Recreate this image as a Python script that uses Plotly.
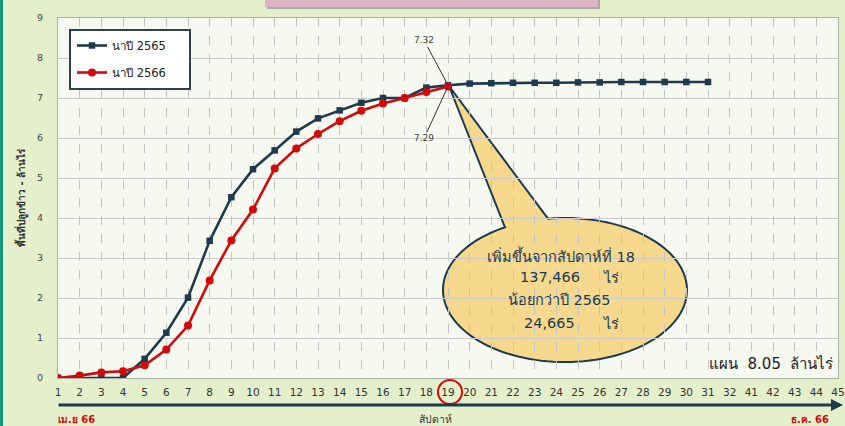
import numpy as np
import plotly.graph_objects as go

# ---------------- data ----------------
week_labels = [str(i) for i in range(1, 33)] + ["41", "42", "43", "44", "45"]
weeks_2565 = [str(i) for i in range(1, 32)]
area_2565 = [0, 0, 0, 0, 0.48, 1.13, 2.01, 3.43, 4.52, 5.22, 5.69, 6.16, 6.49, 6.69,
             6.88, 7.00, 7.00, 7.26, 7.32, 7.36, 7.37, 7.38, 7.38, 7.38, 7.39, 7.39,
             7.40, 7.40, 7.40, 7.40, 7.40]
weeks_2566 = [str(i) for i in range(1, 20)]
area_2566 = [0, 0.06, 0.14, 0.17, 0.32, 0.71, 1.31, 2.44, 3.44, 4.21, 5.24, 5.74,
             6.10, 6.42, 6.68, 6.86, 7.00, 7.15, 7.29]
series_names = ["นาปี 2565", "นาปี 2566"]
y_ticks = list(range(0, 10))
callout_lines = ["เพิ่มขึ้นจากสัปดาห์ที่ 18", "137,466", "น้อยกว่าปี 2565", "24,665"]
unit_rai = "ไร่"
plan_text = "แผน  8.05  ล้านไร่"
y_title = "พื้นที่ปลูกข้าว - ล้านไร่"
x_title = "สัปดาห์"
start_label = "เม.ย 66"
end_label = "ธ.ค. 66"
highlight_week = "19"

NAVY = "#1d3a4e"
RED = "#d20a0a"
FONT = "DejaVu Sans, Noto Sans, sans-serif"

W, H = 845, 426
ML, MR, MT, MB = 58, 7, 18, 48
PW, PH = W - ML - MR, H - MT - MB


def px(x):
    return (x - ML) / PW


def py(y):
    return (H - MB - y) / PH


fig = go.Figure()
fig.add_trace(go.Scatter(
    x=weeks_2565, y=area_2565, name=series_names[0], mode="lines+markers",
    line=dict(color=NAVY, width=2.6), marker=dict(symbol="square", size=6.5, color=NAVY),
    legendgroup="a"))
fig.add_trace(go.Scatter(
    x=weeks_2566, y=area_2566, name=series_names[1], mode="lines+markers",
    line=dict(color=RED, width=2.6), marker=dict(symbol="circle", size=8, color=RED),
    legendgroup="b"))

# ---------------- callout (speech bubble) ----------------
cx, cy, rx, ry = 565, 290, 122, 72
tip = (449, 86)
t1 = np.arctan2(-0.990, -0.139)
t2 = np.arctan2(-0.8707, -0.492) + 2 * np.pi
th = np.linspace(t1, t2, 120)
pts = [tip] + [(cx + rx * np.cos(t), cy + ry * np.sin(t)) for t in th]
path = "M " + " L ".join(f"{px(a):.5f},{py(b):.5f}" for a, b in pts) + " Z"

shapes = [
    dict(type="path", path=path, xref="paper", yref="paper", fillcolor="#f6d98c",
         line=dict(color=NAVY, width=2), layer="between"),
    dict(type="rect", xref="paper", yref="paper", x0=px(267), x1=px(600), y0=py(9), y1=py(-2),
         fillcolor="#a9a9a9", line=dict(width=0), layer="below"),
    dict(type="rect", xref="paper", yref="paper", x0=px(265), x1=px(598), y0=py(7), y1=py(-2),
         fillcolor="#deb4c7", line=dict(width=0), layer="below"),
    dict(type="rect", xref="paper", yref="paper", x0=px(-2), x1=px(3), y0=py(430), y1=py(-4),
         fillcolor="#12957a", line=dict(width=0), layer="below"),
    dict(type="circle", xref="paper", yref="paper", x0=px(438), x1=px(462), y0=py(404), y1=py(380),
         line=dict(color=RED, width=2)),
    # legend frame
    dict(type="rect", xref="paper", yref="paper", x0=px(70), x1=px(190), y0=py(89), y1=py(30),
         fillcolor="#ffffff", line=dict(color="#2e4152", width=2), layer="above"),
]


def txt(x, y, text, size, color=NAVY, xanchor="center", **kw):
    d = dict(x=px(x), y=py(y), xref="paper", yref="paper", text=text, showarrow=False,
             xanchor=xanchor, yanchor="middle", font=dict(size=size, color=color, family=FONT))
    d.update(kw)
    return d


annotations = [
    txt(561, 255, callout_lines[0], 14.5),
    txt(582, 277, callout_lines[1], 14.5, xanchor="right"),
    txt(559, 300, callout_lines[2], 14.5),
    txt(577, 323, callout_lines[3], 14.5, xanchor="right"),
    txt(601, 277, unit_rai, 14.5, xanchor="left"),
    txt(601, 323, unit_rai, 14.5, xanchor="left"),
    txt(835, 364, plan_text, 15, color="#222222", xanchor="right"),
    txt(21, 198, f"<b>{y_title}</b>", 10, color="#333333", textangle=-90),
    txt(435, 419, x_title, 10.5, color="#333333"),
    txt(56, 419, f"<b>{start_label}</b>", 10, color=RED, xanchor="left"),
    txt(831, 419, f"<b>{end_label}</b>", 10, color=RED, xanchor="right"),
]

hi = week_labels.index(highlight_week)
# value labels with leader lines
annotations.append(dict(x=hi, y=area_2565[hi], xref="x", yref="y",
                        text=f"{area_2565[hi]:.2f}", showarrow=True, arrowhead=0, arrowwidth=1,
                        arrowcolor="#333333", ax=-24, ay=-45, standoff=0,
                        font=dict(size=9, color="#444444", family=FONT)))
annotations.append(dict(x=hi, y=area_2566[hi], xref="x", yref="y",
                        text=f"{area_2566[hi]:.2f}", showarrow=True, arrowhead=0, arrowwidth=1,
                        arrowcolor="#333333", ax=-24, ay=52, standoff=0,
                        font=dict(size=9, color="#444444", family=FONT)))
# x axis arrow
annotations.append(dict(x=px(843), y=py(405), xref="paper", yref="paper", axref="pixel", ayref="pixel",
                        ax=-786, ay=0, text="", showarrow=True, arrowhead=2, arrowsize=0.8,
                        arrowwidth=3, arrowcolor=NAVY, standoff=0))

fig.update_layout(
    width=W, height=H,
    margin=dict(l=ML, r=MR, t=MT, b=MB, autoexpand=False),
    paper_bgcolor="#e4f0cc",
    plot_bgcolor="#f6f9ef",
    font=dict(family=FONT, color="#333333"),
    showlegend=True,
    legend=dict(x=px(72), y=py(31), xanchor="left", yanchor="top", bgcolor="rgba(0,0,0,0)",
                borderwidth=0, font=dict(size=11.5, color="#222222", family=FONT),
                tracegroupgap=8, itemwidth=30),
    shapes=shapes,
    annotations=annotations,
    xaxis=dict(type="category", categoryorder="array", categoryarray=week_labels,
               tickmode="array", tickvals=week_labels, ticktext=week_labels,
               range=[0, len(week_labels) - 1], showgrid=True, gridcolor="#c3c3c3",
               griddash="dash", gridwidth=1, showline=True, linecolor="#a8aea8", mirror=True,
               ticks="", tickfont=dict(size=10.5, color="#333333"), ticklabelstandoff=4,
               zeroline=False),
    yaxis=dict(range=[0, 9], tickvals=y_ticks, showgrid=True, gridcolor="#cacaca", gridwidth=1,
               showline=True, linecolor="#a8aea8", mirror=True, ticks="",
               tickfont=dict(size=9.5, color="#444444"), ticklabelstandoff=12, zeroline=False),
)

fig.write_html("out.html", config={"displayModeBar": False},
               post_script="document.body.style.margin='0';document.body.style.overflow='hidden';")
